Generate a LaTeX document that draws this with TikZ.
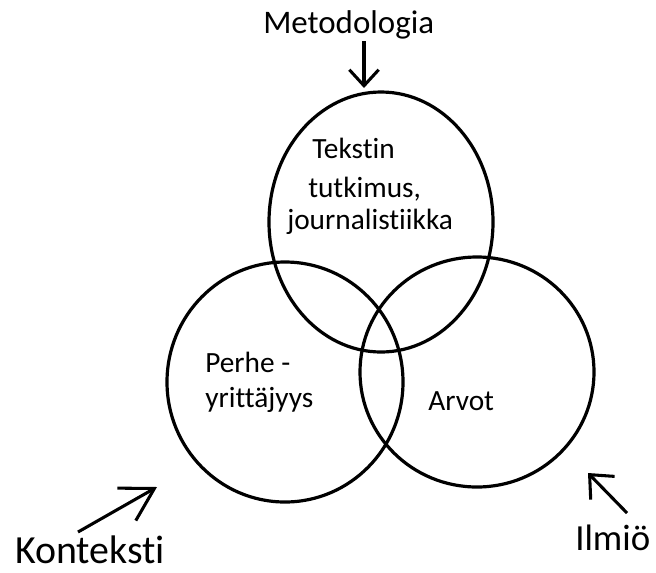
\documentclass[tikz,border=0pt]{standalone}
\usepackage{fontspec}
\setmainfont[Ligatures={NoCommon}]{Carlito}
\usepackage{tikz}
\usetikzlibrary{arrows.meta, positioning, shapes.geometric}

\begin{document}
\begin{tikzpicture}[
    x=0.75pt, y=-0.75pt,
    ring/.style={ellipse, draw, line width=2.4pt, inner sep=0pt},
    inner/.style={inner sep=0pt, anchor=base west, font=\fontsize{22}{26}\selectfont},
    label/.style={inner sep=0pt, anchor=base west},
    pointer/.style={line width=2.3pt}
]
\useasboundingbox (0,0) rectangle (656,572);

% The three circles
\node[ring, minimum width=168pt, minimum height=195pt] (textCircle) at (381,222) {};
\node[ring, minimum width=177pt, minimum height=180pt] (familyCircle) at (285,382) {};
\node[ring, minimum width=175.5pt, minimum height=172.5pt] (valueCircle) at (477,372) {};

% Texts inside the circles
\node[inner] (tekstin) at (312,158) {Tekstin};
\node[inner] (tutkimus) at (308,197) {tutkimus,};
\node[inner] (journalism) at (287,229) {journalistiikka};
\node[inner] (perhe) at (205,372) {Perhe -};
\node[inner] (yrittajyys) at (205,407) {yrittäjyys};
\node[inner] (arvot) at (428,410) {Arvot};

% Outer labels
\node[label, font=\fontsize{24.7}{30}\selectfont] (metodologia) at (263,33) {Metodologia};
\node[label, font=\fontsize{29.9}{36}\selectfont] (konteksti) at (15,563) {Konteksti};
\node[label, font=\fontsize{27.6}{33}\selectfont] (ilmio) at (575,550) {Ilmiö};

% Arrow ends
\coordinate (metoTail) at (364,41);
\coordinate (metoTip) at (364,88);
\coordinate (kontTail) at (78,532);
\coordinate (kontTip) at (157,487);
\coordinate (ilmioTail) at (627,513);
\coordinate (ilmioTip) at (588,473);

% Arrows
\draw[pointer, -{Straight Barb[length=12pt, width=22pt]}] (metoTail) -- (metoTip);
\draw[pointer, -{Straight Barb[length=24pt, width=28pt]}] (kontTail) -- (kontTip);
\draw[pointer, -{Straight Barb[length=14pt, width=25pt]}] (ilmioTail) -- (ilmioTip);

\end{tikzpicture}
\end{document}
